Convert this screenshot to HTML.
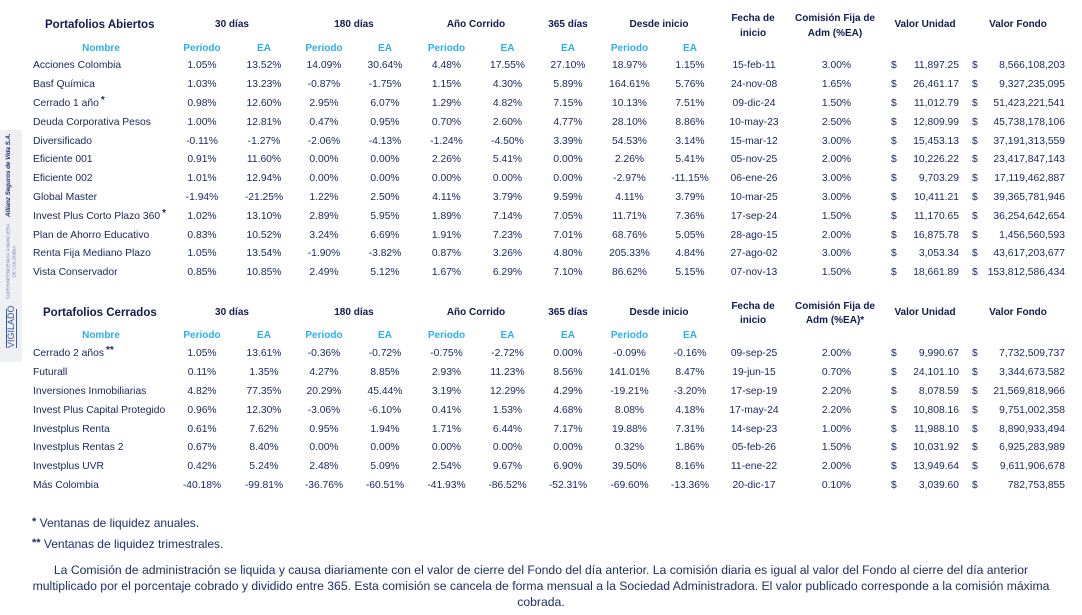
<!DOCTYPE html>
<html><head><meta charset="utf-8">
<style>
*{margin:0;padding:0;box-sizing:border-box}
html,body{width:1082px;height:615px;background:#fff;overflow:hidden}
body{position:relative;font-family:"Liberation Sans",Arial,sans-serif;color:#17265c}
#w{position:absolute;left:0;top:2px;width:1082px;height:600px}
.a{position:absolute;white-space:nowrap;line-height:14px;height:14px}
.r{position:absolute;left:0;width:1082px;height:14px;font-size:10.3px}
.r span{position:absolute;top:0;line-height:14px;white-space:nowrap}
.n{left:33px}
.c{width:70px;text-align:center}
.c1{left:167px}.c2{left:229px}.c3{left:289px}.c4{left:350px}.c5{left:411.5px}.c6{left:472.5px}
.c7{left:533px}.c8{left:594.5px}.c9{left:655px}.c10{left:719px}.c11{left:801.5px}
.d1{left:891px}.d2{left:972px}
.v1{left:869px;width:90px;text-align:right}
.v2{left:975px;width:90px;text-align:right}
.t{font-weight:bold;font-size:11.5px;color:#0e1c50}
.h{font-weight:bold;font-size:10px;color:#0e1c50;text-align:center}
.s{font-weight:bold;font-size:10px;color:#2bb0ea;text-align:center}
sup.k{font-size:10px;font-weight:bold;vertical-align:3px;line-height:0;margin-left:2px}
.fn{position:absolute;font-size:12px;color:#1f2e6c;white-space:nowrap;line-height:16px}
.p{position:absolute;left:0;width:1082px;text-align:center;font-size:12.2px;color:#1f2e6c;white-space:nowrap;line-height:16px}
.rot{position:absolute;transform:rotate(-90deg);text-align:center;white-space:nowrap}
</style></head><body>

<!-- left logo strip -->
<div style="position:absolute;left:0;top:130px;width:22px;height:232px;background:#eef0f4"></div>
<div class="rot" style="left:-32.5px;top:171px;width:82px;height:10px;font-size:6.4px;line-height:10px;font-weight:bold;font-style:italic;color:#1a3070;letter-spacing:-0.1px">Allianz Seguros de Vida S.A.</div>
<div class="rot" style="left:-33.5px;top:255.5px;width:88px;height:11px;font-size:4.6px;line-height:5.5px;color:#6d81ad">SUPERINTENDENCIA FINANCIERA<br>DE COLOMBIA</div>
<div class="rot" style="left:-8px;top:323px;width:39px;height:11px;font-size:9px;line-height:9px;color:#3a5a9c;border-top:1.5px solid #3a5a9c;border-bottom:1.5px solid #3a5a9c">VIGILADO</div>

<div id="w">
<!-- TOP TABLE HEADER -->
<div class="a t" style="left:45px;top:16px">Portafolios Abiertos</div>
<div class="a h" style="left:192px;top:16px;width:80px">30 días</div>
<div class="a h" style="left:314px;top:16px;width:80px">180 días</div>
<div class="a h" style="left:426px;top:16px;width:100px">Año Corrido</div>
<div class="a h" style="left:528px;top:16px;width:80px">365 días</div>
<div class="a h" style="left:609px;top:16px;width:100px">Desde inicio</div>
<div class="a h" style="left:713px;top:10px;width:80px">Fecha de</div>
<div class="a h" style="left:713px;top:25px;width:80px">inicio</div>
<div class="a h" style="left:775px;top:10px;width:120px">Comisión Fija de</div>
<div class="a h" style="left:775px;top:25px;width:120px">Adm (%EA)</div>
<div class="a h" style="left:875px;top:16px;width:100px">Valor Unidad</div>
<div class="a h" style="left:968px;top:16px;width:100px">Valor Fondo</div>

<div class="r" style="top:40px">
<span class="s" style="left:61px;width:80px;color:#2bb0ea">Nombre</span>
<span class="s c c1">Periodo</span><span class="s c c2">EA</span>
<span class="s c c3">Periodo</span><span class="s c c4">EA</span>
<span class="s c c5">Periodo</span><span class="s c c6">EA</span>
<span class="s c c7">EA</span>
<span class="s c c8">Periodo</span><span class="s c c9">EA</span>
</div>

<div class="r" style="top:57.3px"><span class="n">Acciones Colombia</span><span class="c c1">1.05%</span><span class="c c2">13.52%</span><span class="c c3">14.09%</span><span class="c c4">30.64%</span><span class="c c5">4.48%</span><span class="c c6">17.55%</span><span class="c c7">27.10%</span><span class="c c8">18.97%</span><span class="c c9">1.15%</span><span class="c c10">15-feb-11</span><span class="c c11">3.00%</span><span class="d1">$</span><span class="v1">11,897.25</span><span class="d2">$</span><span class="v2">8,566,108,203</span></div>
<div class="r" style="top:76.1px"><span class="n">Basf Química</span><span class="c c1">1.03%</span><span class="c c2">13.23%</span><span class="c c3">-0.87%</span><span class="c c4">-1.75%</span><span class="c c5">1.15%</span><span class="c c6">4.30%</span><span class="c c7">5.89%</span><span class="c c8">164.61%</span><span class="c c9">5.76%</span><span class="c c10">24-nov-08</span><span class="c c11">1.65%</span><span class="d1">$</span><span class="v1">26,461.17</span><span class="d2">$</span><span class="v2">9,327,235,095</span></div>
<div class="r" style="top:94.9px"><span class="n">Cerrado 1 año<sup class="k">*</sup></span><span class="c c1">0.98%</span><span class="c c2">12.60%</span><span class="c c3">2.95%</span><span class="c c4">6.07%</span><span class="c c5">1.29%</span><span class="c c6">4.82%</span><span class="c c7">7.15%</span><span class="c c8">10.13%</span><span class="c c9">7.51%</span><span class="c c10">09-dic-24</span><span class="c c11">1.50%</span><span class="d1">$</span><span class="v1">11,012.79</span><span class="d2">$</span><span class="v2">51,423,221,541</span></div>
<div class="r" style="top:113.7px"><span class="n">Deuda Corporativa Pesos</span><span class="c c1">1.00%</span><span class="c c2">12.81%</span><span class="c c3">0.47%</span><span class="c c4">0.95%</span><span class="c c5">0.70%</span><span class="c c6">2.60%</span><span class="c c7">4.77%</span><span class="c c8">28.10%</span><span class="c c9">8.86%</span><span class="c c10">10-may-23</span><span class="c c11">2.50%</span><span class="d1">$</span><span class="v1">12,809.99</span><span class="d2">$</span><span class="v2">45,738,178,106</span></div>
<div class="r" style="top:132.5px"><span class="n">Diversificado</span><span class="c c1">-0.11%</span><span class="c c2">-1.27%</span><span class="c c3">-2.06%</span><span class="c c4">-4.13%</span><span class="c c5">-1.24%</span><span class="c c6">-4.50%</span><span class="c c7">3.39%</span><span class="c c8">54.53%</span><span class="c c9">3.14%</span><span class="c c10">15-mar-12</span><span class="c c11">3.00%</span><span class="d1">$</span><span class="v1">15,453.13</span><span class="d2">$</span><span class="v2">37,191,313,559</span></div>
<div class="r" style="top:151.3px"><span class="n">Eficiente 001</span><span class="c c1">0.91%</span><span class="c c2">11.60%</span><span class="c c3">0.00%</span><span class="c c4">0.00%</span><span class="c c5">2.26%</span><span class="c c6">5.41%</span><span class="c c7">0.00%</span><span class="c c8">2.26%</span><span class="c c9">5.41%</span><span class="c c10">05-nov-25</span><span class="c c11">2.00%</span><span class="d1">$</span><span class="v1">10,226.22</span><span class="d2">$</span><span class="v2">23,417,847,143</span></div>
<div class="r" style="top:170.1px"><span class="n">Eficiente 002</span><span class="c c1">1.01%</span><span class="c c2">12.94%</span><span class="c c3">0.00%</span><span class="c c4">0.00%</span><span class="c c5">0.00%</span><span class="c c6">0.00%</span><span class="c c7">0.00%</span><span class="c c8">-2.97%</span><span class="c c9">-11.15%</span><span class="c c10">06-ene-26</span><span class="c c11">3.00%</span><span class="d1">$</span><span class="v1">9,703.29</span><span class="d2">$</span><span class="v2">17,119,462,887</span></div>
<div class="r" style="top:188.9px"><span class="n">Global Master</span><span class="c c1">-1.94%</span><span class="c c2">-21.25%</span><span class="c c3">1.22%</span><span class="c c4">2.50%</span><span class="c c5">4.11%</span><span class="c c6">3.79%</span><span class="c c7">9.59%</span><span class="c c8">4.11%</span><span class="c c9">3.79%</span><span class="c c10">10-mar-25</span><span class="c c11">3.00%</span><span class="d1">$</span><span class="v1">10,411.21</span><span class="d2">$</span><span class="v2">39,365,781,946</span></div>
<div class="r" style="top:207.7px"><span class="n">Invest Plus Corto Plazo 360<sup class="k">*</sup></span><span class="c c1">1.02%</span><span class="c c2">13.10%</span><span class="c c3">2.89%</span><span class="c c4">5.95%</span><span class="c c5">1.89%</span><span class="c c6">7.14%</span><span class="c c7">7.05%</span><span class="c c8">11.71%</span><span class="c c9">7.36%</span><span class="c c10">17-sep-24</span><span class="c c11">1.50%</span><span class="d1">$</span><span class="v1">11,170.65</span><span class="d2">$</span><span class="v2">36,254,642,654</span></div>
<div class="r" style="top:226.5px"><span class="n">Plan de Ahorro Educativo</span><span class="c c1">0.83%</span><span class="c c2">10.52%</span><span class="c c3">3.24%</span><span class="c c4">6.69%</span><span class="c c5">1.91%</span><span class="c c6">7.23%</span><span class="c c7">7.01%</span><span class="c c8">68.76%</span><span class="c c9">5.05%</span><span class="c c10">28-ago-15</span><span class="c c11">2.00%</span><span class="d1">$</span><span class="v1">16,875.78</span><span class="d2">$</span><span class="v2">1,456,560,593</span></div>
<div class="r" style="top:245.3px"><span class="n">Renta Fija Mediano Plazo</span><span class="c c1">1.05%</span><span class="c c2">13.54%</span><span class="c c3">-1.90%</span><span class="c c4">-3.82%</span><span class="c c5">0.87%</span><span class="c c6">3.26%</span><span class="c c7">4.80%</span><span class="c c8">205.33%</span><span class="c c9">4.84%</span><span class="c c10">27-ago-02</span><span class="c c11">3.00%</span><span class="d1">$</span><span class="v1">3,053.34</span><span class="d2">$</span><span class="v2">43,617,203,677</span></div>
<div class="r" style="top:264.1px"><span class="n">Vista Conservador</span><span class="c c1">0.85%</span><span class="c c2">10.85%</span><span class="c c3">2.49%</span><span class="c c4">5.12%</span><span class="c c5">1.67%</span><span class="c c6">6.29%</span><span class="c c7">7.10%</span><span class="c c8">86.62%</span><span class="c c9">5.15%</span><span class="c c10">07-nov-13</span><span class="c c11">1.50%</span><span class="d1">$</span><span class="v1">18,661.89</span><span class="d2">$</span><span class="v2">153,812,586,434</span></div>

<!-- BOTTOM TABLE HEADER -->
<div class="a t" style="left:43px;top:303.7px">Portafolios Cerrados</div>
<div class="a h" style="left:192px;top:303.7px;width:80px">30 días</div>
<div class="a h" style="left:314px;top:303.7px;width:80px">180 días</div>
<div class="a h" style="left:426px;top:303.7px;width:100px">Año Corrido</div>
<div class="a h" style="left:528px;top:303.7px;width:80px">365 días</div>
<div class="a h" style="left:609px;top:303.7px;width:100px">Desde inicio</div>
<div class="a h" style="left:713px;top:298px;width:80px">Fecha de</div>
<div class="a h" style="left:713px;top:312px;width:80px">inicio</div>
<div class="a h" style="left:775px;top:298px;width:120px">Comisión Fija de</div>
<div class="a h" style="left:775px;top:312px;width:120px">Adm (%EA)*</div>
<div class="a h" style="left:875px;top:303.7px;width:100px">Valor Unidad</div>
<div class="a h" style="left:968px;top:303.7px;width:100px">Valor Fondo</div>

<div class="r" style="top:327.3px">
<span class="s" style="left:61px;width:80px">Nombre</span>
<span class="s c c1">Periodo</span><span class="s c c2">EA</span>
<span class="s c c3">Periodo</span><span class="s c c4">EA</span>
<span class="s c c5">Periodo</span><span class="s c c6">EA</span>
<span class="s c c7">EA</span>
<span class="s c c8">Periodo</span><span class="s c c9">EA</span>
</div>

<div class="r" style="top:345.3px"><span class="n">Cerrado 2 años<sup class="k">**</sup></span><span class="c c1">1.05%</span><span class="c c2">13.61%</span><span class="c c3">-0.36%</span><span class="c c4">-0.72%</span><span class="c c5">-0.75%</span><span class="c c6">-2.72%</span><span class="c c7">0.00%</span><span class="c c8">-0.09%</span><span class="c c9">-0.16%</span><span class="c c10">09-sep-25</span><span class="c c11">2.00%</span><span class="d1">$</span><span class="v1">9,990.67</span><span class="d2">$</span><span class="v2">7,732,509,737</span></div>
<div class="r" style="top:364.1px"><span class="n">Futurall</span><span class="c c1">0.11%</span><span class="c c2">1.35%</span><span class="c c3">4.27%</span><span class="c c4">8.85%</span><span class="c c5">2.93%</span><span class="c c6">11.23%</span><span class="c c7">8.56%</span><span class="c c8">141.01%</span><span class="c c9">8.47%</span><span class="c c10">19-jun-15</span><span class="c c11">0.70%</span><span class="d1">$</span><span class="v1">24,101.10</span><span class="d2">$</span><span class="v2">3,344,673,582</span></div>
<div class="r" style="top:382.9px"><span class="n">Inversiones Inmobiliarias</span><span class="c c1">4.82%</span><span class="c c2">77.35%</span><span class="c c3">20.29%</span><span class="c c4">45.44%</span><span class="c c5">3.19%</span><span class="c c6">12.29%</span><span class="c c7">4.29%</span><span class="c c8">-19.21%</span><span class="c c9">-3.20%</span><span class="c c10">17-sep-19</span><span class="c c11">2.20%</span><span class="d1">$</span><span class="v1">8,078.59</span><span class="d2">$</span><span class="v2">21,569,818,966</span></div>
<div class="r" style="top:401.7px"><span class="n">Invest Plus Capital Protegido</span><span class="c c1">0.96%</span><span class="c c2">12.30%</span><span class="c c3">-3.06%</span><span class="c c4">-6.10%</span><span class="c c5">0.41%</span><span class="c c6">1.53%</span><span class="c c7">4.68%</span><span class="c c8">8.08%</span><span class="c c9">4.18%</span><span class="c c10">17-may-24</span><span class="c c11">2.20%</span><span class="d1">$</span><span class="v1">10,808.16</span><span class="d2">$</span><span class="v2">9,751,002,358</span></div>
<div class="r" style="top:420.5px"><span class="n">Investplus Renta</span><span class="c c1">0.61%</span><span class="c c2">7.62%</span><span class="c c3">0.95%</span><span class="c c4">1.94%</span><span class="c c5">1.71%</span><span class="c c6">6.44%</span><span class="c c7">7.17%</span><span class="c c8">19.88%</span><span class="c c9">7.31%</span><span class="c c10">14-sep-23</span><span class="c c11">1.00%</span><span class="d1">$</span><span class="v1">11,988.10</span><span class="d2">$</span><span class="v2">8,890,933,494</span></div>
<div class="r" style="top:439.3px"><span class="n">Investplus Rentas 2</span><span class="c c1">0.67%</span><span class="c c2">8.40%</span><span class="c c3">0.00%</span><span class="c c4">0.00%</span><span class="c c5">0.00%</span><span class="c c6">0.00%</span><span class="c c7">0.00%</span><span class="c c8">0.32%</span><span class="c c9">1.86%</span><span class="c c10">05-feb-26</span><span class="c c11">1.50%</span><span class="d1">$</span><span class="v1">10,031.92</span><span class="d2">$</span><span class="v2">6,925,283,989</span></div>
<div class="r" style="top:458.1px"><span class="n">Investplus UVR</span><span class="c c1">0.42%</span><span class="c c2">5.24%</span><span class="c c3">2.48%</span><span class="c c4">5.09%</span><span class="c c5">2.54%</span><span class="c c6">9.67%</span><span class="c c7">6.90%</span><span class="c c8">39.50%</span><span class="c c9">8.16%</span><span class="c c10">11-ene-22</span><span class="c c11">2.00%</span><span class="d1">$</span><span class="v1">13,949.64</span><span class="d2">$</span><span class="v2">9,611,906,678</span></div>
<div class="r" style="top:476.9px"><span class="n">Más Colombia</span><span class="c c1">-40.18%</span><span class="c c2">-99.81%</span><span class="c c3">-36.76%</span><span class="c c4">-60.51%</span><span class="c c5">-41.93%</span><span class="c c6">-86.52%</span><span class="c c7">-52.31%</span><span class="c c8">-69.60%</span><span class="c c9">-13.36%</span><span class="c c10">20-dic-17</span><span class="c c11">0.10%</span><span class="d1">$</span><span class="v1">3,039.60</span><span class="d2">$</span><span class="v2">782,753,855</span></div>
</div>

<!-- footnotes -->
<div class="fn" style="left:32px;top:514px"><b style="font-size:11px;vertical-align:2px">*</b> Ventanas de liquidez anuales.</div>
<div class="fn" style="left:32px;top:535px"><b style="font-size:11px;vertical-align:2px">**</b> Ventanas de liquidez trimestrales.</div>
<div class="p" style="top:562px">La Comisión de administración se liquida y causa diariamente con el valor de cierre del Fondo del día anterior. La comisión diaria es igual al valor del Fondo al cierre del día anterior</div>
<div class="p" style="top:578px">multiplicado por el porcentaje cobrado y dividido entre 365. Esta comisión se cancela de forma mensual a la Sociedad Administradora. El valor publicado corresponde a la comisión máxima</div>
<div class="p" style="top:594px">cobrada.</div>

</body></html>
